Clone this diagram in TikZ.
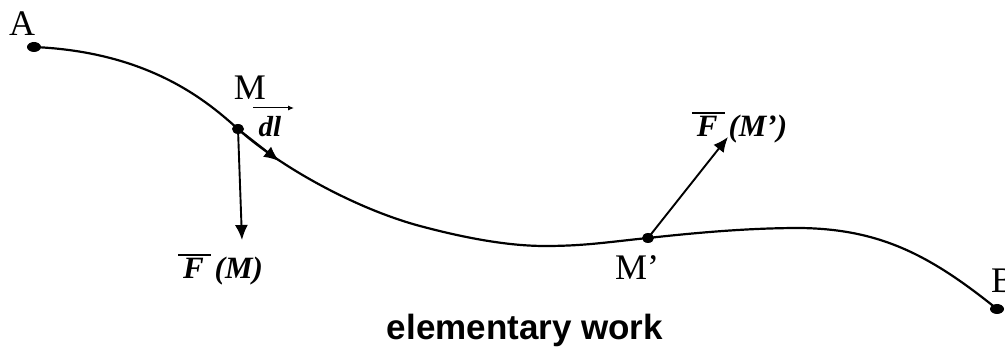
\documentclass[tikz,border=0pt]{standalone}
\usepackage{fontspec}
\setmainfont{Liberation Serif}
\setsansfont{Liberation Sans}
\usetikzlibrary{arrows.meta}
\newcommand\ovbar[1]{\kern-5pt\vbox{\hrule height 1.3pt\kern 3pt\hbox{\kern5pt #1\kern7pt}}\kern-7pt}
\begin{document}
\begin{tikzpicture}[x=1pt,y=-1pt,
  curve/.style={line width=2.2pt},
  vec/.style={line width=1.9pt,-{Latex[length=15pt,width=13pt]}},
  lbl/.style={font=\fontsize{36}{40}\selectfont, inner sep=0pt},
  flbl/.style={font=\fontsize{31}{34}\selectfont\bfseries\itshape, inner sep=0pt},
  dotfill/.style={fill=black}]
\useasboundingbox (0,0) rectangle (1005,347);
% points on the path
\coordinate (A) at (34,47);
\coordinate (M) at (238,129);
\coordinate (dlT) at (279,161);
\coordinate (c5) at (420,226);
\coordinate (c6) at (545,246);
\coordinate (Mp) at (648,238);
\coordinate (c8) at (800,228);
\coordinate (B) at (997,309);
\coordinate (FM) at (242,240);
\coordinate (FMp) at (728,137);
\coordinate (dla) at (253,108);
\coordinate (dlb) at (294,108);
% curve
\draw[curve] (A) .. controls (150,52) and (208,102) .. (M)
  .. controls (284,170) and (360,210) .. (c5)
  .. controls (460,236.7) and (505,246) .. (c6)
  .. controls (585,246) and (608,242) .. (Mp)
  .. controls (700,232.3) and (750,228) .. (c8)
  .. controls (880,229) and (930,255) .. (B);
% dots
\fill[dotfill] (A) ellipse (7 and 5);
\fill[dotfill] (M) ellipse (6 and 5);
\fill[dotfill] (Mp) ellipse (6 and 5);
\fill[dotfill] (B) ellipse (7 and 5);
% vectors
\draw[vec] (M) -- (dlT);
\draw[vec] (M) -- (FM);
\draw[vec] (Mp) -- (FMp);
\draw[line width=1pt,-{Latex[length=6pt,width=5pt]}] (dla) -- (dlb);
% labels
\node[lbl] (lA) at (22,24) {A};
\node[lbl] (lM) at (250,88) {M};
\node[lbl] (lMp) at (637,268) {M’};
\node[lbl,anchor=west] (lB) at (991,281) {B};
\node[font=\fontsize{29}{31}\selectfont\bfseries\itshape, inner sep=0pt] (ldl) at (270,127) {dl};
\node[flbl] (lFM) at (223,270) {\ovbar{F}\hspace{11pt}(M)};
\node[flbl] (lFMp) at (742,128) {\ovbar{F}\hspace{11pt}(M')};
\node[font=\fontsize{35}{38}\selectfont\sffamily\bfseries, inner sep=0pt, anchor=base] (title) at (525,340) {elementary work};
\end{tikzpicture}
\end{document}
